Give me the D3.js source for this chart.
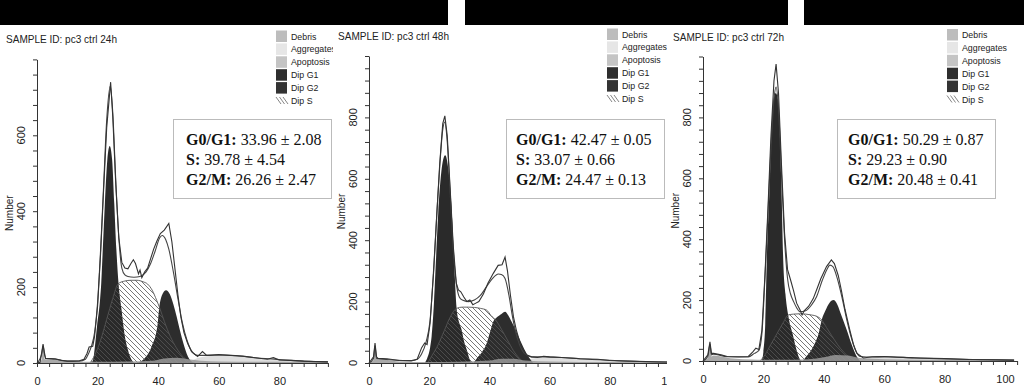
<!DOCTYPE html>
<html>
<head>
<meta charset="utf-8">
<script src="https://cdn.jsdelivr.net/npm/d3@7"></script>
<style>
  body { margin: 0; background: #fff; }
  svg { display: block; font-family: 'Liberation Sans', Arial, sans-serif; }
</style>
</head>
<body>
<div id="chart"></div>
<script>
// sample names and cell-cycle stats (mean ± sd) for each panel
const sampleTimes = ['24h', '48h', '72h'];
const statLabels = ['G0/G1:', 'S:', 'G2/M:'];
const g0g1Mean = [33.96, 42.47, 50.29], g0g1Sd = [2.08, 0.05, 0.87];
const sMean    = [39.78, 33.07, 29.23], sSd    = [4.54, 0.66, 0.90];
const g2mMean  = [26.26, 24.47, 20.48], g2mSd  = [2.47, 0.13, 0.41];
const legendLabels = ['Debris', 'Aggregates', 'Apoptosis', 'Dip G1', 'Dip G2', 'Dip S'];

// ---- 24h : [channel, number] ----
const hist24 = [[0,0],[1,2],[1.6,30],[2,50],[2.4,30],[2.8,12],[4,12],[6,11],[8,7],[10,5],[12,5],[14,6],[15.5,10],[16.5,25],[17.2,42],[18.4,44],[19,70],[20,150],[21,290],[22,460],[23,620],[24.3,740],[25,650],[26,470],[27,330],[28,265],[29,250],[30,248],[31,262],[31.8,272],[32.5,262],[33.5,235],[34,245],[34.6,225],[35.5,240],[36.5,250],[37.5,275],[38.5,300],[39.5,320],[40.7,341],[42,350],[43.5,368],[44.5,320],[45.5,250],[46.5,180],[47.5,120],[48.5,80],[49.7,52],[51,30],[53,17],[54.6,30],[56,20],[60,22],[64,20],[68,18],[72,14],[76,10],[78,14],[80,8],[84,7],[88,5],[92,4],[96,3]];
const fit24 = [[0,0],[1.6,25],[2,45],[2.4,25],[3,12],[6,10],[10,5],[14,5],[16,10],[17,25],[18,45],[19,80],[20,160],[21,300],[22,470],[23,640],[24.2,730],[25,660],[26,480],[27,330],[28,250],[29,232],[30,228],[32,226],[34,228],[36,240],[37.5,262],[39,295],[40.5,330],[41.3,336],[42.5,325],[43.5,300],[45,240],[46.5,170],[48,105],[49.5,60],[51,32],[53,20],[56,20],[60,21],[66,19],[72,14],[80,9],[88,5],[96,3]];
const g1Peak24 = [[17.8,0],[18.5,8],[19.1,43],[19.8,96],[20.8,166],[21.2,210],[21.7,298],[22.4,420],[23.2,535],[24,572],[24.8,535],[25.5,420],[26.2,298],[26.9,210],[27.9,140],[29,70],[30,35],[30.7,17],[32,0]];
const g2Peak24 = [[33,0],[35.6,13],[37.8,43],[39.7,96],[40.4,150],[41.2,178],[42.6,192],[43.8,182],[45,155],[46.1,122],[47.2,85],[48.3,52],[49.8,17],[51.6,0]];
const sPhase24 = [[17.5,0],[19,20],[21,60],[23,115],[25,170],[26.8,209],[29,216],[31,218],[33,218],[35,214],[36.5,208],[38,192],[39.5,165],[40.5,145],[42,110],[44,70],[46,40],[48,18],[50,5],[52,0]];
const debris24 = [[0,0],[1.5,8],[2,45],[2.5,10],[3,10],[6,9],[10,4],[20,3],[30,4],[38,6],[42,12],[46,14],[50,10],[54,6],[60,4],[80,3],[96,2]];
const aggr24 = [[50,0],[52,10],[56,18],[60,20],[66,18],[72,13],[80,8],[88,5],[96,3]];

// ---- 48h ----
const hist48 = [[0,0],[1.5,20],[2,65],[2.5,20],[3,15],[6,14],[10,8],[14,7],[16,12],[17.5,50],[18.5,65],[19.3,60],[20.3,130],[21.5,300],[22.5,480],[23.5,650],[24.5,780],[25.2,805],[26,740],[27,560],[28,380],[29,260],[29.7,238],[30.5,232],[31.5,215],[32.5,200],[33.5,205],[34.5,190],[35.5,195],[36.5,200],[38,225],[39.5,260],[41.3,292],[42.9,318],[44.2,320],[45.2,345],[46,300],[47,220],[48,150],[49,105],[50.5,55],[52.3,27],[54,20],[56,18],[58,22],[60,20],[64,18],[70,14],[76,12],[80,8],[86,6],[92,5],[100,3]];
const fit48 = [[0,0],[1.5,15],[2,55],[2.5,15],[3,14],[8,10],[14,8],[16,12],[17.5,30],[19,70],[20.3,140],[21.5,310],[22.5,480],[23.5,640],[24.5,760],[25.2,785],[26,720],[27,550],[28,370],[29,260],[30,215],[31,205],[33,200],[35,205],[37,220],[39,248],[41,275],[43,290],[44,288],[45.2,275],[46.5,220],[47.5,160],[48.5,110],[50,60],[52,28],[54,20],[58,20],[64,18],[70,14],[80,9],[90,5],[100,3]];
const g1Peak48 = [[18.6,0],[19.5,20],[20.3,50],[20.8,86],[21.6,200],[22.2,325],[23,488],[24,620],[25.3,677],[26.5,620],[27.5,488],[28.3,325],[29.1,178],[30,130],[30.8,107],[31.6,70],[32.5,42],[33.5,10],[34.2,0]];
const g2Peak48 = [[34.7,0],[35.8,15],[37.5,35],[39.1,64],[40.2,100],[41.3,135],[42.4,148],[44,160],[45.2,167],[46.3,155],[47.4,134],[48.8,105],[50.2,74],[51.6,45],[53,20],[54.5,0]];
const sPhase48 = [[19.5,0],[21,25],[23,60],[25,105],[27,150],[29.1,178],[31,182],[33,182],[35,181],[37,178],[39.1,172],[40.5,155],[42.4,136],[44,110],[46,75],[48,40],[50,15],[52,0]];
const debris48 = [[0,0],[1.5,10],[2,60],[2.5,12],[3,12],[6,10],[10,5],[20,3],[30,4],[40,8],[44,14],[48,14],[52,8],[60,5],[80,3],[100,2]];
const aggr48 = [[52,0],[54,14],[58,18],[64,16],[70,13],[80,8],[90,5],[100,3]];

// ---- 72h ----
const hist72 = [[0,0],[1.6,20],[2.3,63],[2.8,25],[3.5,25],[6,20],[8,15],[12,14],[15,15],[16.5,30],[17.5,42],[18.5,38],[19.5,100],[20.5,280],[21.5,500],[22.5,740],[23.5,920],[24.2,975],[25,880],[26,640],[27,420],[28,300],[29,266],[30,230],[31,190],[32.1,168],[32.8,151],[33.5,165],[35,180],[36.5,205],[37.6,233],[39,270],[40.9,310],[42.5,332],[43.5,320],[44.8,280],[45.8,233],[47,170],[48.6,102],[49.8,55],[50.9,26],[53.1,10],[56,14],[60,15],[66,12],[72,10],[80,8],[88,5],[96,4],[103,3]];
const fit72 = [[0,0],[1.6,15],[2.3,55],[2.8,20],[3.5,22],[8,14],[15,13],[17,25],[18.5,35],[19.5,90],[20.5,270],[21.5,480],[22.5,700],[23.5,860],[24.2,900],[25,830],[26,610],[27,400],[28,270],[29,220],[30,195],[31,175],[32,162],[34,165],[36,185],[37.6,211],[39.5,265],[41,300],[42,315],[43,310],[44.5,270],[46,210],[47.5,140],[49,80],[50.5,35],[52,15],[56,13],[60,14],[70,10],[80,7],[90,5],[103,3]];
const g1Peak72 = [[19.4,0],[20,30],[20.6,120],[21.1,321],[22,560],[22.7,758],[23.4,860],[24.1,880],[24.8,860],[25.4,758],[26,560],[26.6,321],[27.3,220],[28.2,151],[29.9,80],[31,35],[32.1,5],[32.8,0]];
const g2Peak72 = [[33,0],[33.8,10],[35.5,30],[37.1,59],[38.3,90],[39.3,135],[40.5,165],[41.8,190],[43.2,200],[44.5,185],[45.8,150],[47.6,102],[49.2,55],[50.9,15],[52,0]];
const sPhase72 = [[18.9,0],[20.5,20],[22.5,55],[24.5,90],[26.5,125],[28.2,151],[30,154],[32,155],[34,154],[36,151],[37.6,147],[39.3,135],[40.9,110],[42.5,85],[44.5,55],[46.5,30],[48.5,12],[50.5,0]];
const debris72 = [[0,0],[1.6,10],[2.3,55],[2.8,15],[3.5,18],[6,15],[10,8],[16,5],[25,4],[35,6],[40,12],[44,20],[48,18],[52,10],[60,6],[80,4],[103,2]];
const aggr72 = [[52,0],[54,10],[58,13],[64,12],[72,10],[80,7],[90,5],[103,3]];

const series = [
  { hist: hist24, fit: fit24, g1: g1Peak24, g2: g2Peak24, s: sPhase24, debris: debris24, aggr: aggr24 },
  { hist: hist48, fit: fit48, g1: g1Peak48, g2: g2Peak48, s: sPhase48, debris: debris48, aggr: aggr48 },
  { hist: hist72, fit: fit72, g1: g1Peak72, g2: g2Peak72, s: sPhase72, debris: debris72, aggr: aggr72 }
];

// panel placement inside the 1024x386 picture
const layout = [
  { clipX: 0,   clipW: 333, x0: 37,  x1: 327.9,  uMax: 96,  yBase: 363, yTop: 59.4, vMax: 800,
    titleX: 6,   titleY: 43, legX: 276, legY: 30.5, boxX: 173.5, boxY: 119.5, textX: 186 },
  { clipX: 333, clipW: 334, x0: 369, x1: 670,    uMax: 100, yBase: 363, yTop: 56,   vMax: 1000,
    titleX: 338, titleY: 40, legX: 607, legY: 28.5, boxX: 506.5, boxY: 119.5, textX: 516 },
  { clipX: 667, clipW: 357, x0: 703, x1: 1017.1, uMax: 104, yBase: 361, yTop: 56.5, vMax: 1000,
    titleX: 673, titleY: 41, legX: 947, legY: 29,   boxX: 837.5, boxY: 119.5, textX: 848 }
];

const svgW = 1024, svgH = 386;
const svg = d3.select('#chart').append('svg')
  .attr('width', svgW)
  .attr('height', svgH);

const defs = svg.append('defs');
// diagonal hatch for the S phase
const pat = defs.append('pattern')
  .attr('id', 'hatch')
  .attr('patternUnits', 'userSpaceOnUse')
  .attr('width', 5).attr('height', 5);
pat.append('path')
  .attr('d', 'M0,0 L5,5 M-1,4 L1,6 M4,-1 L6,1')
  .attr('stroke', '#555')
  .attr('stroke-width', 1);

layout.forEach((L, i) => {
  defs.append('clipPath').attr('id', `clip${i}`)
    .append('rect').attr('x', L.clipX).attr('y', 25).attr('width', L.clipW).attr('height', svgH - 25);
});

// black band along the top
[[0, 448], [465, 788], [804, 1024]].forEach(([a, b]) => {
  svg.append('rect').attr('x', a).attr('y', 0).attr('width', b - a).attr('height', 25).attr('fill', '#000');
});

const stats = [
  [g0g1Mean, g0g1Sd],
  [sMean, sSd],
  [g2mMean, g2mSd]
];

layout.forEach((L, i) => drawPanel(L, series[i], i));

function drawPanel(L, S, i) {
  const g = svg.append('g').attr('clip-path', `url(#clip${i})`);

  const x = d3.scaleLinear().domain([0, L.uMax]).range([L.x0, L.x1]);
  const y = d3.scaleLinear().domain([0, L.vMax]).range([L.yBase, L.yTop]);

  const area = d3.area()
    .x(d => x(d[0])).y0(y(0)).y1(d => y(d[1]))
    .curve(d3.curveMonotoneX);
  const smooth = d3.line().x(d => x(d[0])).y(d => y(d[1])).curve(d3.curveMonotoneX);
  const jagged = d3.line().x(d => x(d[0])).y(d => y(d[1]));

  // light aggregates region on the right
  g.append('path').attr('d', area(S.aggr)).attr('fill', '#dedede');
  // S phase, white underneath so the hatch shows between the peaks
  g.append('path').attr('d', area(S.s)).attr('fill', '#fff');
  // diploid G1 and G2 peaks
  g.append('path').attr('d', area(S.g1)).attr('fill', '#2a2a2a');
  g.append('path').attr('d', area(S.g2)).attr('fill', '#2d2d2d');
  // hatch over the whole S region
  g.append('path').attr('d', area(S.s)).attr('fill', 'url(#hatch)').attr('opacity', 0.8);
  g.append('path').attr('d', smooth(S.s)).attr('fill', 'none').attr('stroke', '#555').attr('stroke-width', 0.9);
  // debris along the floor
  g.append('path').attr('d', area(S.debris)).attr('fill', '#9a9a9a').attr('opacity', 0.85);

  // model fit and raw histogram
  g.append('path').attr('d', smooth(S.fit)).attr('fill', 'none').attr('stroke', '#444').attr('stroke-width', 1.1);
  g.append('path').attr('d', jagged(S.hist)).attr('fill', 'none').attr('stroke', '#333').attr('stroke-width', 1.1);

  // y axis: minor ticks every 40, rotated labels every 200
  const yTicks = d3.range(0, L.vMax + 1, 40);
  const yAxis = g.append('g')
    .attr('transform', `translate(${L.x0},0)`)
    .call(d3.axisLeft(y).tickValues(yTicks).tickSize(4).tickSizeOuter(0).tickFormat(''));
  yAxis.selectAll('path, line').attr('stroke', '#333');
  yTicks.filter(v => v % 200 === 0 && v < L.vMax).forEach(v => {
    g.append('text')
      .attr('transform', `translate(${L.x0 - 12},${y(v)}) rotate(-90)`)
      .attr('text-anchor', 'middle')
      .style('font-size', '11px')
      .attr('fill', '#222')
      .text(v);
  });
  g.append('text')
    .attr('transform', `translate(${L.x0 - 24},${(L.yBase + L.yTop) / 2 + 2}) rotate(-90)`)
    .attr('text-anchor', 'middle')
    .style('font-size', '10px')
    .attr('fill', '#222')
    .text('Number');

  // x axis: minor ticks every 4, labels every 20
  const xTicks = d3.range(0, L.uMax + 1, 4);
  const xAxis = g.append('g')
    .attr('transform', `translate(0,${L.yBase})`)
    .call(d3.axisBottom(x).tickValues(xTicks).tickSize(4).tickSizeOuter(0).tickPadding(10)
      .tickFormat(d => d % 20 === 0 ? d : ''));
  xAxis.selectAll('path, line').attr('stroke', '#333');
  xAxis.selectAll('text').style('font-size', '11px').attr('fill', '#222')
    .style('font-family', "'Liberation Sans', Arial, sans-serif");

  // sample title
  g.append('text')
    .attr('x', L.titleX).attr('y', L.titleY)
    .style('font-size', '11px')
    .attr('fill', '#222')
    .attr('textLength', 111).attr('lengthAdjust', 'spacingAndGlyphs')
    .text(`SAMPLE ID: pc3 ctrl ${sampleTimes[i]}`);

  // legend
  const legColors = ['#bdbdbd', '#e6e6e6', '#c4c4c4', '#2e2e2e', '#333333'];
  legendLabels.forEach((lab, k) => {
    const ry = L.legY + k * 12.9;
    if (k < 5) {
      g.append('rect').attr('x', L.legX).attr('y', ry).attr('width', 11).attr('height', 11.5)
        .attr('fill', legColors[k]);
    } else {
      [0, 3.5, 7].forEach(o => {
        g.append('line')
          .attr('x1', L.legX + o).attr('y1', ry + 2)
          .attr('x2', L.legX + o + 5).attr('y2', ry + 9)
          .attr('stroke', '#777').attr('stroke-width', 0.9);
      });
    }
    g.append('text')
      .attr('x', L.legX + 15).attr('y', ry + 9)
      .style('font-size', '8.8px')
      .attr('fill', '#222')
      .text(lab);
  });

  // stats box
  g.append('rect')
    .attr('x', L.boxX).attr('y', L.boxY).attr('width', 158).attr('height', 79)
    .attr('fill', '#fff').attr('stroke', '#bbb').attr('stroke-width', 1);
  stats.forEach(([mean, sd], k) => {
    const t = g.append('text')
      .attr('x', L.textX).attr('y', 144.5 + k * 20)
      .style('font-family', "'Liberation Serif', 'Times New Roman', serif")
      .style('font-size', '16px')
      .attr('fill', '#111');
    t.append('tspan').style('font-weight', 'bold').text(statLabels[k]);
    t.append('tspan').text(` ${mean[i].toFixed(2)} \u00b1 ${sd[i].toFixed(2)}`);
  });
}
</script>
</body>
</html>
